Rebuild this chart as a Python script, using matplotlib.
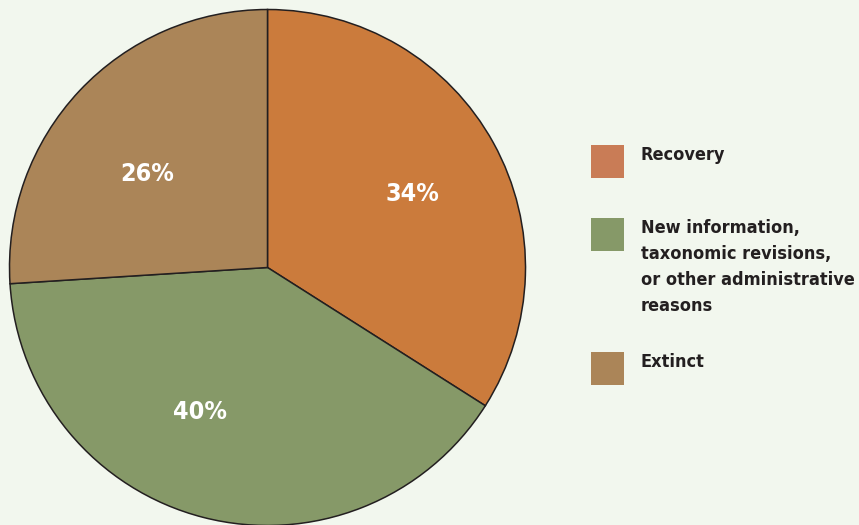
import numpy as np
import matplotlib.pyplot as plt
from matplotlib.patches import Rectangle

labels = ["Recovery",
          "New information,\ntaxonomic revisions,\nor other administrative\nreasons",
          "Extinct"]
shares = [34, 40, 26]
pie_colors = ["#cb7b3c", "#869968", "#ab8558"]
key_colors = ["#c97c56", "#869968", "#ab8558"]

W, H = 859, 525
bg = "#f2f7ee"
ink = "#231f20"
fam = ["DejaVu Sans"]

fig = plt.figure(figsize=(W / 100, H / 100), dpi=100, facecolor=bg)

# pie: centre ~ (267.5, 267.5) px from top-left, radius ~258 px
r = 258
cx, cy = 267.5, H - 267.5
ax = fig.add_axes([(cx - r) / W, (cy - r) / H, 2 * r / W, 2 * r / H])
ax.set_facecolor(bg)
wedges, texts, autotexts = ax.pie(
    shares, colors=pie_colors, startangle=90, counterclock=False,
    autopct="%d%%", pctdistance=0.62,
    wedgeprops=dict(edgecolor=ink, linewidth=1.1),
    textprops=dict(color="white", fontsize=18, fontweight="bold",
                   family=fam, fontstretch="condensed"))
ax.set_xlim(-1, 1)
ax.set_ylim(-1, 1)
ax.set_aspect("equal")
for w in wedges:
    w.set_clip_on(False)

# nudge percentage labels to where the original puts them
lab_ang = [27, -115, 142]
lab_rad = [0.63, 0.62, 0.59]
for t, a, d in zip(autotexts, lab_ang, lab_rad):
    t.set_position((d * np.cos(np.radians(a)), d * np.sin(np.radians(a))))

# key on the right
px, pw = 591, 33
tops = [145, 218, 352]
for lab, col, top in zip(labels, key_colors, tops):
    fig.add_artist(Rectangle((px / W, 1 - (top + pw) / H), pw / W, pw / H,
                             transform=fig.transFigure, facecolor=col,
                             edgecolor="none"))
    fig.text(641 / W, 1 - (top + 1) / H, lab, ha="left", va="top",
             fontsize=13, fontweight="bold", color=ink, family=fam,
             fontstretch="condensed", linespacing=1.58)

fig.savefig("out.png", dpi=100, facecolor=bg)
